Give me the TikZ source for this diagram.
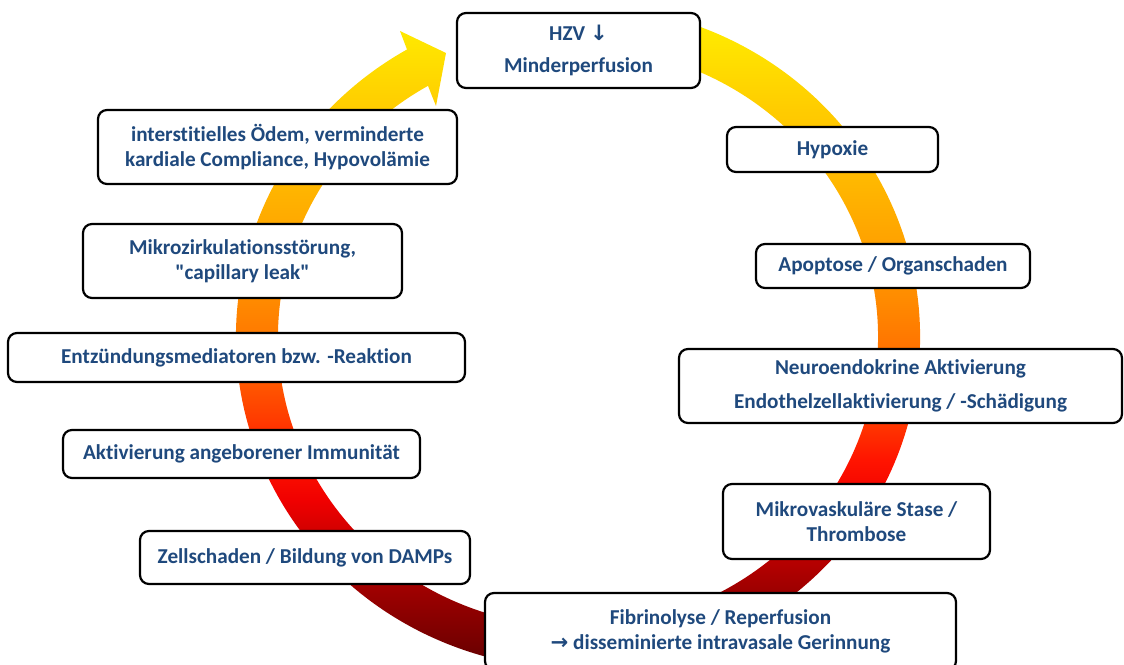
\documentclass[tikz,border=0pt]{standalone}
\usepackage{fontspec}
\setmainfont{Carlito}[Ligatures={TeXOff,NoCommon}]
\newfontfamily\flechefont{DejaVu Sans}
\usepackage{tikz}
\usetikzlibrary{calc}

\definecolor{bleutexte}{HTML}{1F497D}
\definecolor{c00}{HTML}{600000}
\definecolor{c01}{HTML}{780000}
\definecolor{c02}{HTML}{9E0000}
\definecolor{c03}{HTML}{C00000}
\definecolor{c04}{HTML}{F00000}
\definecolor{c05}{HTML}{FF1400}
\definecolor{c06}{HTML}{FF3A00}
\definecolor{c07}{HTML}{FF7500}
\definecolor{c08}{HTML}{FF9800}
\definecolor{c09}{HTML}{FFB800}
\definecolor{c10}{HTML}{FFCC00}
\definecolor{c11}{HTML}{FFE600}
\definecolor{c12}{HTML}{FFF000}

% Dégradé vertical de l'anneau (du bas vers le haut)
\pgfdeclareverticalshading{anneau}{100bp}{color(0bp)=(c00); color(25bp)=(c00);
  color(27.2bp)=(c01); color(31bp)=(c02); color(34bp)=(c03); color(37.7bp)=(c04);
  color(40.7bp)=(c05); color(43.7bp)=(c06); color(49.4bp)=(c07); color(55bp)=(c08);
  color(61.8bp)=(c09); color(67.1bp)=(c10); color(72.4bp)=(c11); color(75bp)=(c12);
  color(100bp)=(c12)}

\tikzset{
  boite/.style={draw=black, line width=2.2pt, fill=white, rounded corners=9pt,
    inner sep=0pt, align=center, text=bleutexte,
    font=\fontsize{21.2}{25}\selectfont\bfseries},
}

\begin{document}
\begin{tikzpicture}[x=1pt,y=1pt]

    \clip (0,0) rectangle (1124,664);

    % Centre de l'anneau et pointe de la flèche
    \coordinate (O) at (578,327);
    \coordinate (P) at (446,611);
    \coordinate (Pext) at (400,633);
    \coordinate (Pint) at (436,558);

    % Anneau en dégradé avec sa flèche
    \begin{scope}
        \clip (O) ++(75:342 and 332) arc[start angle=75, end angle=-240, x radius=342, y radius=332]
            -- (Pext) -- (P) -- (Pint) -- ($(O)+(120:300 and 290)$)
            arc[start angle=-240, end angle=75, x radius=300, y radius=290] -- cycle;
        \shade[shading=anneau] (0,-5) rectangle (1124,659);
    \end{scope}

    % Les étapes du cercle, à droite
    \node[boite, minimum width=243pt, minimum height=75pt] (hzv) at (578.5,613.5) {HZV {\flechefont ↓}\\[7pt]Minderperfusion};
    \node[boite, minimum width=211pt, minimum height=45pt] (hypoxie) at (832.5,514.5) {Hypoxie};
    \node[boite, minimum width=274pt, minimum height=44pt] (apoptose) at (893,398) {Apoptose / Organschaden};
    \node[boite, minimum width=443pt, minimum height=74pt] (neuro) at (900.5,278) {Neuroendokrine Aktivierung\\[9pt]Endothelzellaktivierung / -Schädigung};
    \node[boite, minimum width=267pt, minimum height=75pt] (stase) at (856.5,142.5) {Mikrovaskuläre Stase /\\Thrombose};
    \node[boite, minimum width=471pt, minimum height=77pt] (fibrin) at (720.5,32.5) {Fibrinolyse / Reperfusion\\{\flechefont →} disseminierte intravasale Gerinnung};

    % Les étapes du cercle, à gauche
    \node[boite, minimum width=330pt, minimum height=53pt] (zell) at (305,106.5) {Zellschaden / Bildung von DAMPs};
    \node[boite, minimum width=357pt, minimum height=48pt] (immun) at (241.5,210) {Aktivierung angeborener Immunität};
    \node[boite, minimum width=457pt, minimum height=49pt] (entz) at (236.5,306.5) {Entzündungsmediatoren bzw. -Reaktion};
    \node[boite, minimum width=319pt, minimum height=74pt] (mikro) at (242.5,403) {Mikrozirkulationsstörung,\\"capillary leak"};
    \node[boite, minimum width=359pt, minimum height=74pt] (oedem) at (277.5,517) {interstitielles Ödem, verminderte\\kardiale Compliance, Hypovolämie};

\end{tikzpicture}
\end{document}
